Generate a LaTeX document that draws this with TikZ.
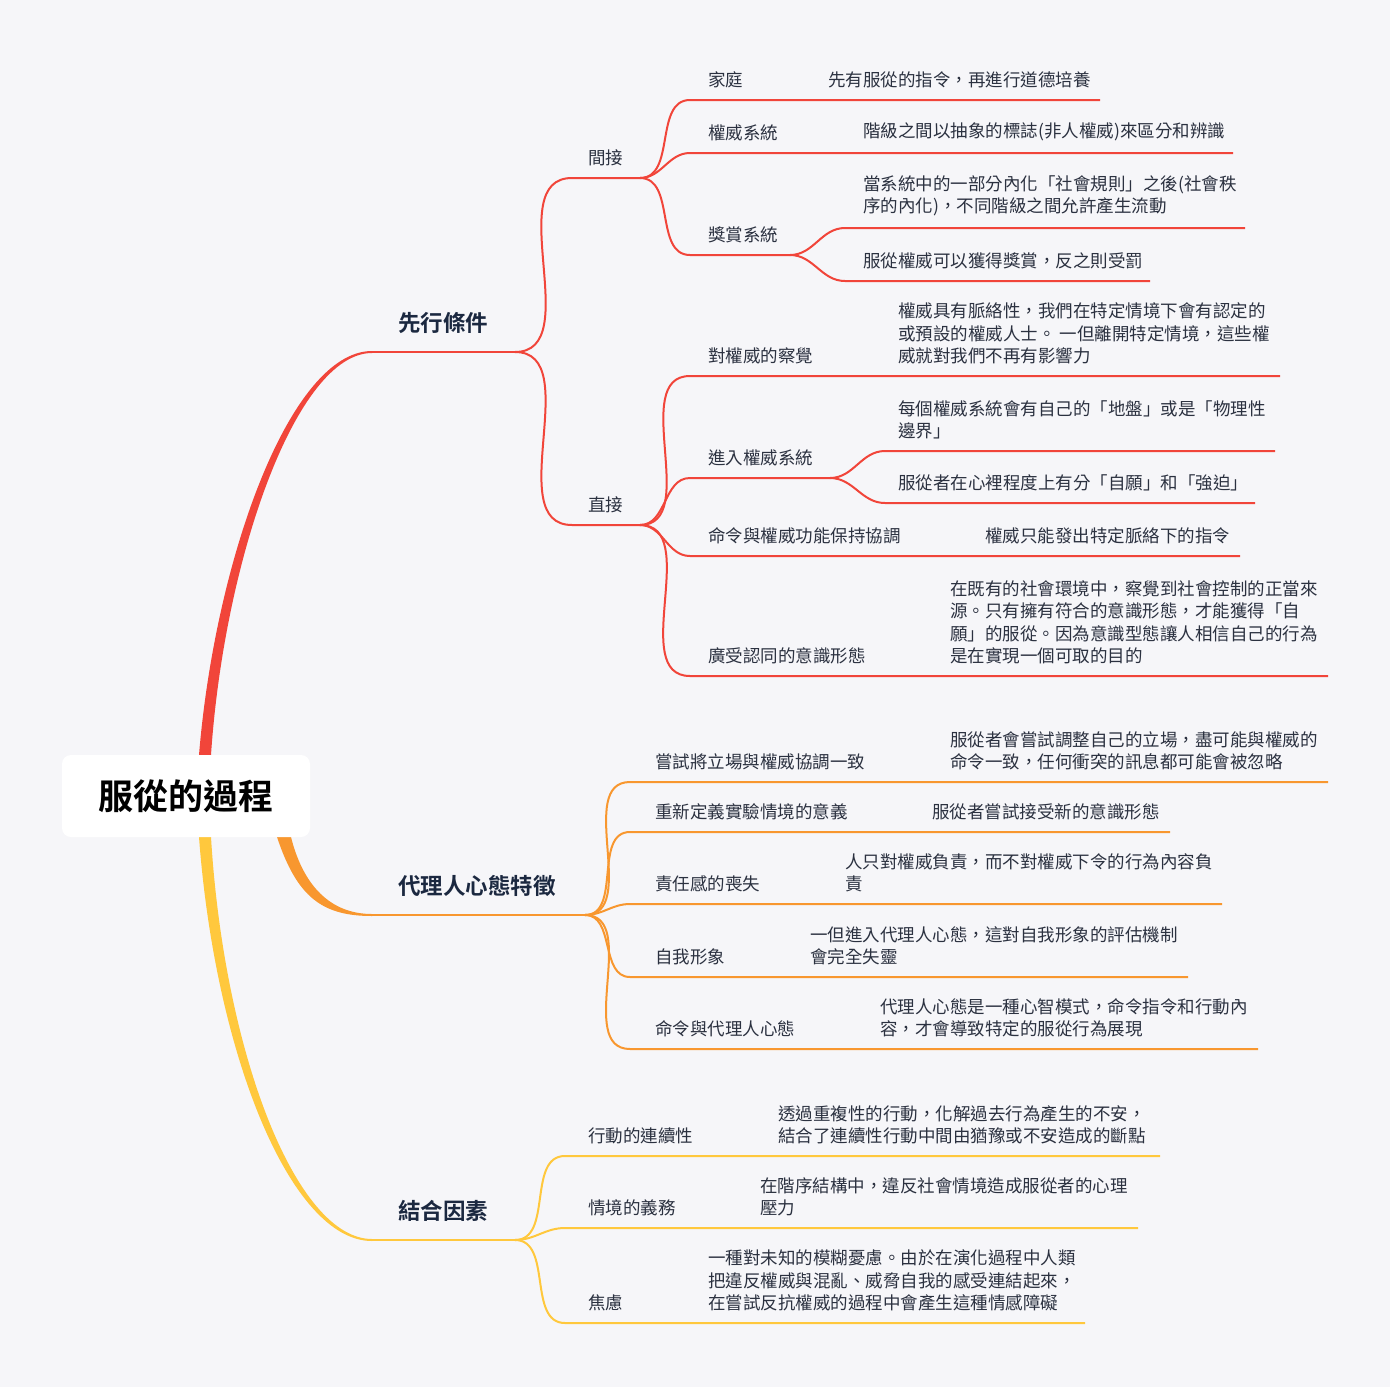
\documentclass[tikz,border=0pt]{standalone}
\usepackage{fontspec}
\setmainfont{Noto Sans CJK TC}[BoldFont={Noto Sans CJK TC Bold}]
\usetikzlibrary{positioning}

\definecolor{bgc}{HTML}{F6F6F9}
\definecolor{redc}{HTML}{F1453A}
\definecolor{orangec}{HTML}{F8972F}
\definecolor{yellowc}{HTML}{FFC83D}
\definecolor{leafc}{HTML}{2B3140}
\definecolor{topicc}{HTML}{1B2840}

\tikzset{
  rootbox/.style={fill=white, rounded corners=9pt, minimum width=248pt, minimum height=82pt,
    inner sep=0pt, text=black, font=\bfseries\fontsize{35}{40}\selectfont},
  topic/.style={anchor=south west, inner sep=0pt, text=topicc, font=\bfseries\fontsize{22.5}{26}\selectfont},
  leaf/.style={anchor=south west, inner sep=0pt, align=left, text=leafc, font=\fontsize{17.5}{22.5}\selectfont},
  redl/.style={draw=redc, line width=2pt},
  orl/.style={draw=orangec, line width=2pt},
  yel/.style={draw=yellowc, line width=2pt},
}

\begin{document}
\begin{tikzpicture}[x=1pt,y=-1pt]
\fill[bgc] (0,0) rectangle (1390,1387);

% main branches (drawn under the root box)
\coordinate (rA) at (199,755);
\coordinate (rB) at (211,755);
\coordinate (pre) at (372,352);
\coordinate (preE) at (515,352);
\fill[redc] (rA) .. controls +(16,-195) and +(-82,0) .. ([yshift=1pt]pre)
  -- ([yshift=-1pt]pre) .. controls +(-76,0) and +(13,-195) .. (rB) -- cycle;
\draw[redl] (pre) -- (preE);

\coordinate (oA) at (277,837);
\coordinate (oB) at (291,837);
\coordinate (age) at (372,915);
\coordinate (ageE) at (585,915);
\fill[orangec] (oA) .. controls +(20,60) and +(-50,0) .. ([yshift=-1pt]age)
  -- ([yshift=1pt]age) .. controls +(-42,0) and +(12,48) .. (oB) -- cycle;
\draw[orl] (age) -- (ageE);

\coordinate (yA) at (199,837);
\coordinate (yB) at (211,837);
\coordinate (com) at (372,1240);
\coordinate (comE) at (515,1240);
\fill[yellowc] (yA) .. controls +(16,215) and +(-82,0) .. ([yshift=-1pt]com)
  -- ([yshift=1pt]com) .. controls +(-76,0) and +(13,215) .. (yB) -- cycle;
\draw[yel] (com) -- (comE);

\node[rootbox] (root) at (186,796) {服從的過程};

\node[topic] (preT) at (398,334) {先行條件};
\node[topic] (ageT) at (398,897) {代理人心態特徵};
\node[topic] (comT) at (398,1222) {結合因素};

% 先行條件
\coordinate (ind) at (572,178);
\coordinate (indE) at (640,178);
\coordinate (dir) at (572,525);
\coordinate (dirE) at (640,525);
\draw[redl] (preE) to[out=0,in=180] (ind) -- (indE);
\draw[redl] (preE) to[out=0,in=180] (dir) -- (dirE);
\node[leaf] (indT) at (588,166.5) {間接};
\node[leaf] (dirT) at (588,513.5) {直接};

% 間接
\coordinate (fam) at (690,100);
\coordinate (famE) at (1100,100);
\coordinate (sys) at (690,153);
\coordinate (sysE) at (1233,153);
\coordinate (rew) at (690,255);
\coordinate (rewE) at (790,255);
\coordinate (rewA) at (845,228);
\coordinate (rewAE) at (1245,228);
\coordinate (rewB) at (845,281);
\coordinate (rewBE) at (1150,281);
\draw[redl] (indE) to[out=0,in=180] (fam) -- (famE);
\draw[redl] (indE) to[out=0,in=180] (sys) -- (sysE);
\draw[redl] (indE) to[out=0,in=180] (rew) -- (rewE);
\draw[redl] (rewE) to[out=0,in=180] (rewA) -- (rewAE);
\draw[redl] (rewE) to[out=0,in=180] (rewB) -- (rewBE);
\node[leaf] (famT) at (708,88.5) {家庭};
\node[leaf] (famD) at (828,88.5) {先有服從的指令，再進行道德培養};
\node[leaf] (sysT) at (708,141.5) {權威系統};
\node[leaf] (sysD) at (863,141.5) {階級之間以抽象的標誌(非人權威)來區分和辨識};
\node[leaf] (rewT) at (708,243.5) {獎賞系統};
\node[leaf] (rewAD) at (863,216.5) {當系統中的一部分內化「社會規則」之後(社會秩\\序的內化)，不同階級之間允許產生流動};
\node[leaf] (rewBD) at (863,269.5) {服從權威可以獲得獎賞，反之則受罰};

% 直接
\coordinate (per) at (690,376);
\coordinate (perE) at (1280,376);
\coordinate (ent) at (690,478);
\coordinate (entE) at (830,478);
\coordinate (entA) at (885,451);
\coordinate (entAE) at (1275,451);
\coordinate (entB) at (885,503);
\coordinate (entBE) at (1255,503);
\coordinate (ord) at (690,556);
\coordinate (ordE) at (1240,556);
\coordinate (ide) at (690,676);
\coordinate (ideE) at (1328,676);
\draw[redl] (dirE) to[out=0,in=180] (per) -- (perE);
\draw[redl] (dirE) to[out=0,in=180] (ent) -- (entE);
\draw[redl] (entE) to[out=0,in=180] (entA) -- (entAE);
\draw[redl] (entE) to[out=0,in=180] (entB) -- (entBE);
\draw[redl] (dirE) to[out=0,in=180] (ord) -- (ordE);
\draw[redl] (dirE) to[out=0,in=180] (ide) -- (ideE);
\node[leaf] (perT) at (708,364.5) {對權威的察覺};
\node[leaf] (perD) at (898,364.5) {權威具有脈絡性，我們在特定情境下會有認定的\\或預設的權威人士。 一但離開特定情境，這些權\\威就對我們不再有影響力};
\node[leaf] (entT) at (708,466.5) {進入權威系統};
\node[leaf] (entAD) at (898,439.5) {每個權威系統會有自己的「地盤」或是「物理性\\邊界」};
\node[leaf] (entBD) at (898,491.5) {服從者在心裡程度上有分「自願」和「強迫」};
\node[leaf] (ordT) at (708,544.5) {命令與權威功能保持協調};
\node[leaf] (ordD) at (985,544.5) {權威只能發出特定脈絡下的指令};
\node[leaf] (ideT) at (708,664.5) {廣受認同的意識形態};
\node[leaf] (ideD) at (950,664.5) {在既有的社會環境中，察覺到社會控制的正當來\\源。只有擁有符合的意識形態，才能獲得「自\\願」的服從。因為意識型態讓人相信自己的行為\\是在實現一個可取的目的};

% 代理人心態特徵
\coordinate (adj) at (630,782);
\coordinate (adjE) at (1328,782);
\coordinate (red) at (630,832);
\coordinate (redE) at (1170,832);
\coordinate (res) at (630,904);
\coordinate (resE) at (1222,904);
\coordinate (img) at (630,977);
\coordinate (imgE) at (1188,977);
\coordinate (cmd) at (630,1049);
\coordinate (cmdE) at (1258,1049);
\draw[orl] (ageE) to[out=0,in=180] (adj) -- (adjE);
\draw[orl] (ageE) to[out=0,in=180] (red) -- (redE);
\draw[orl] (ageE) to[out=0,in=180] (res) -- (resE);
\draw[orl] (ageE) to[out=0,in=180] (img) -- (imgE);
\draw[orl] (ageE) to[out=0,in=180] (cmd) -- (cmdE);
\node[leaf] (adjT) at (655,770.5) {嘗試將立場與權威協調一致};
\node[leaf] (adjD) at (950,770.5) {服從者會嘗試調整自己的立場，盡可能與權威的\\命令一致，任何衝突的訊息都可能會被忽略};
\node[leaf] (redT) at (655,820.5) {重新定義實驗情境的意義};
\node[leaf] (redD) at (932,820.5) {服從者嘗試接受新的意識形態};
\node[leaf] (resT) at (655,892.5) {責任感的喪失};
\node[leaf] (resD) at (845,892.5) {人只對權威負責，而不對權威下令的行為內容負\\責};
\node[leaf] (imgT) at (655,965.5) {自我形象};
\node[leaf] (imgD) at (810,965.5) {一但進入代理人心態，這對自我形象的評估機制\\會完全失靈};
\node[leaf] (cmdT) at (655,1037.5) {命令與代理人心態};
\node[leaf] (cmdD) at (880,1037.5) {代理人心態是一種心智模式，命令指令和行動內\\容，才會導致特定的服從行為展現};

% 結合因素
\coordinate (con) at (565,1156);
\coordinate (conE) at (1160,1156);
\coordinate (obl) at (565,1228);
\coordinate (oblE) at (1138,1228);
\coordinate (anx) at (565,1323);
\coordinate (anxE) at (1085,1323);
\draw[yel] (comE) to[out=0,in=180] (con) -- (conE);
\draw[yel] (comE) to[out=0,in=180] (obl) -- (oblE);
\draw[yel] (comE) to[out=0,in=180] (anx) -- (anxE);
\node[leaf] (conT) at (588,1144.5) {行動的連續性};
\node[leaf] (conD) at (778,1144.5) {透過重複性的行動，化解過去行為產生的不安，\\結合了連續性行動中間由猶豫或不安造成的斷點};
\node[leaf] (oblT) at (588,1216.5) {情境的義務};
\node[leaf] (oblD) at (760,1216.5) {在階序結構中，違反社會情境造成服從者的心理\\壓力};
\node[leaf] (anxT) at (588,1311.5) {焦慮};
\node[leaf] (anxD) at (708,1311.5) {一種對未知的模糊憂慮。由於在演化過程中人類\\把違反權威與混亂、威脅自我的感受連結起來，\\在嘗試反抗權威的過程中會產生這種情感障礙};
\end{tikzpicture}
\end{document}
